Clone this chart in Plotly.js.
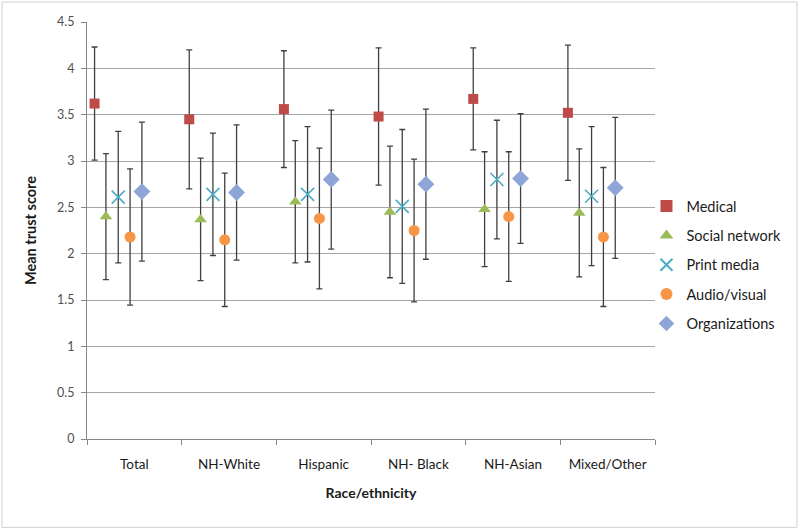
<!DOCTYPE html>
<html>
<head>
<meta charset="utf-8">
<script src="https://cdn.plot.ly/plotly-3.0.1.min.js"></script>
<style>
  html, body { margin: 0; padding: 0; background: #ffffff; }
  #chart { width: 800px; height: 529px; }
</style>
</head>
<body>
<div id="chart"></div>
<script>
// ---- Data ----
const categories = ['Total', 'NH-White', 'Hispanic', 'NH- Black', 'NH-Asian', 'Mixed/Other'];
const seriesNames = ['Medical', 'Social network', 'Print media', 'Audio/visual', 'Organizations'];

const medical     = [3.62, 3.45, 3.56, 3.48, 3.67, 3.52];
const medicalSD   = [0.61, 0.75, 0.63, 0.74, 0.55, 0.73];
const social      = [2.40, 2.37, 2.56, 2.45, 2.48, 2.44];
const socialSD    = [0.68, 0.66, 0.66, 0.71, 0.62, 0.69];
const printMedia  = [2.61, 2.64, 2.64, 2.51, 2.80, 2.62];
const printSD     = [0.71, 0.66, 0.73, 0.83, 0.64, 0.75];
const audio       = [2.18, 2.15, 2.38, 2.25, 2.40, 2.18];
const audioSD     = [0.735, 0.72, 0.76, 0.77, 0.70, 0.75];
const orgs        = [2.67, 2.66, 2.80, 2.75, 2.81, 2.71];
const orgsSD      = [0.75, 0.73, 0.75, 0.81, 0.70, 0.76];

// ---- Styles ----
const FONT = 'Lato, "Liberation Sans", sans-serif';
const catIndex = categories.map((c, i) => i + 1);
const seriesOffset = [-0.42, -0.30, -0.17, -0.045, 0.08];
const styles = [
  { symbol: 'square',        color: '#BE4B48', size: 10, line: { width: 0 } },
  { symbol: 'triangle-up',   color: '#9BBB59', size: 11, line: { width: 0 } },
  { symbol: 'x-thin-open',   color: '#4BACC6', size: 13, line: { width: 1.6, color: '#4BACC6' } },
  { symbol: 'circle',        color: '#F79646', size: 11, line: { width: 0 } },
  { symbol: 'diamond',       color: '#8EA5D8', size: 13, line: { width: 0 } }
];
const values = [medical, social, printMedia, audio, orgs];
const sds = [medicalSD, socialSD, printSD, audioSD, orgsSD];

const traces = values.map((vals, s) => ({
  type: 'scatter',
  mode: 'markers',
  name: seriesNames[s],
  legendgroup: 'g' + s,
  x: catIndex.map(v => v + seriesOffset[s]),
  y: vals,
  marker: {
    symbol: styles[s].symbol,
    color: styles[s].color,
    size: styles[s].size,
    line: styles[s].line
  },
  error_y: {
    type: 'data',
    array: sds[s],
    visible: true,
    color: '#404040',
    thickness: 1.3,
    width: 3
  },
  hoverinfo: 'x+y'
}));

const layout = {
  width: 800,
  height: 529,
  margin: { l: 87, r: 145, t: 22, b: 90, pad: 0 },
  paper_bgcolor: '#ffffff',
  plot_bgcolor: '#ffffff',
  font: { family: FONT, size: 12, color: '#404040' },
  showlegend: true,
  legend: {
    x: 0.985, xanchor: 'left',
    y: 0.417, yanchor: 'middle',
    traceorder: 'grouped',
    tracegroupgap: 7.5,
    font: { family: FONT, size: 14.5, color: '#1a1a1a' },
    bgcolor: 'rgba(0,0,0,0)',
    itemsizing: 'constant'
  },
  xaxis: {
    range: [0.5, 6.5],
    tickmode: 'array',
    tickvals: catIndex,
    ticktext: categories,
    ticks: '',
    ticklabelstandoff: 13,
    tickfont: { family: FONT, size: 13.5, color: '#1a1a1a' },
    showgrid: false,
    zeroline: false,
    showline: true,
    linecolor: '#888888',
    linewidth: 1,
    minor: { tickmode: 'linear', tick0: 0.5, dtick: 1, ticks: 'outside', ticklen: 5, tickcolor: '#888888', showgrid: false },
    title: { text: '<b>Race/ethnicity</b>', font: { family: FONT, size: 14, color: '#1a1a1a' }, standoff: 16 },
    fixedrange: true
  },
  yaxis: {
    range: [0, 4.5],
    dtick: 0.5,
    tick0: 0,
    ticks: 'outside',
    ticklen: 5,
    tickcolor: '#888888',
    tickfont: { family: FONT, size: 12.5, color: '#505050' },
    ticklabelstandoff: 4,
    showgrid: true,
    gridcolor: '#a6a6a6',
    gridwidth: 1,
    zeroline: false,
    showline: true,
    linecolor: '#888888',
    linewidth: 1,
    title: { text: '<b>Mean trust score</b>', font: { family: FONT, size: 14.5, color: '#1a1a1a' }, standoff: 16 },
    fixedrange: true
  },
  shapes: [{
    type: 'rect', xref: 'paper', yref: 'paper',
    x0: -0.1496, x1: 1.25, y0: -0.212, y1: 1.048,
    line: { color: '#d0d0d0', width: 1 }, fillcolor: 'rgba(0,0,0,0)', layer: 'below'
  }]
};

Plotly.newPlot('chart', traces, layout, { displayModeBar: false, staticPlot: true });
</script>
</body>
</html>
